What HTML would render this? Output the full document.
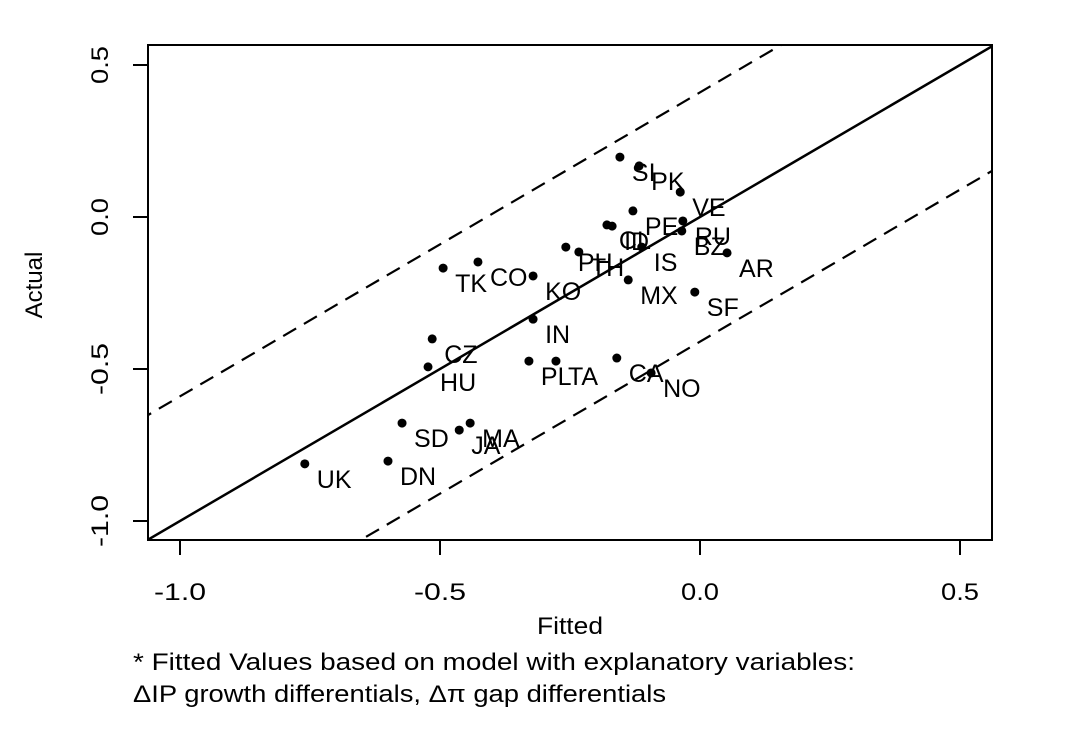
<!DOCTYPE html>
<html><head><meta charset="utf-8"><style>
body{margin:0;background:#fff;}
svg text{font-family:"Liberation Sans",Arial,sans-serif;fill:#000;}
</style></head><body>
<svg id="chart" width="1068" height="732" xmlns="http://www.w3.org/2000/svg">
<rect x="0" y="0" width="1068" height="732" fill="#fff"/>
<defs><clipPath id="clip"><rect x="148" y="45" width="844" height="495"/></clipPath></defs>
<g id="lines" clip-path="url(#clip)"></g>
<g id="pts"></g>
<rect x="148" y="45" width="844" height="495" fill="none" stroke="#000" stroke-width="2"/>
<g id="axes"></g>
<text x="537" y="634" font-size="24" textLength="66" lengthAdjust="spacingAndGlyphs">Fitted</text>
<text x="42" y="285" font-size="24" text-anchor="middle" transform="rotate(-90 42 285)">Actual</text>
<text x="133" y="670" font-size="24" textLength="722" lengthAdjust="spacingAndGlyphs">* Fitted Values based on model with explanatory variables:</text>
<text x="133" y="702" font-size="24" textLength="533" lengthAdjust="spacingAndGlyphs">ΔIP growth differentials, Δπ gap differentials</text>
</svg>
<script>
const labels=["SI","PK","VE","PE","RU","BZ","CL","ID","IS","AR","PH","TH","MX","SF","KO","TK","CO","IN","CZ","HU","PL","TA","CA","NO","SD","JA","MA","UK","DN"];
const fitted=[-0.154,-0.117,-0.038,-0.129,-0.033,-0.035,-0.179,-0.169,-0.112,0.052,-0.258,-0.233,-0.138,-0.010,-0.321,-0.494,-0.427,-0.321,-0.515,-0.523,-0.329,-0.277,-0.160,-0.094,-0.573,-0.463,-0.442,-0.760,-0.600];
const actual=[0.197,0.168,0.082,0.020,-0.013,-0.046,-0.026,-0.030,-0.099,-0.118,-0.099,-0.115,-0.207,-0.247,-0.194,-0.168,-0.148,-0.336,-0.401,-0.493,-0.474,-0.474,-0.464,-0.513,-0.678,-0.701,-0.678,-0.812,-0.803];
const xTicks=[-1.0,-0.5,0.0,0.5];
const yTicks=[-1.0,-0.5,0.0,0.5];
const bandOffsets=[-0.41,0,0.41];
const NS="http://www.w3.org/2000/svg";
const sx=v=>700+v*520, sy=v=>217-v*304;
function mk(t,a,p){const e=document.createElementNS(NS,t);for(const k in a)e.setAttribute(k,a[k]);p.appendChild(e);return e;}
const L=document.getElementById('lines');
bandOffsets.forEach(o=>{
  const e=mk('line',{x1:sx(-1.2),y1:sy(-1.2+o),x2:sx(0.7),y2:sy(0.7+o),stroke:'#000','stroke-width':o===0?2.5:2.2,'stroke-dasharray':o===0?'none':'15 9'},L);
  
  
});
const P=document.getElementById('pts');
labels.forEach((lb,i)=>{
  const c=mk('circle',{cx:sx(fitted[i]),cy:sy(actual[i]),r:4.5,fill:'#000'},P);
  
  
  const t=mk('text',{x:sx(fitted[i])+12,y:sy(actual[i])+24,'font-size':25},P);
  t.textContent=lb;
  
  
});
const A=document.getElementById('axes');
xTicks.forEach(v=>{
  const l=mk('line',{x1:sx(v),y1:540,x2:sx(v),y2:555,stroke:'#000','stroke-width':2},A);
  
  
  const s=v<0?52:38;
  const t=mk('text',{x:sx(v)-s/2,y:600,'font-size':24,textLength:s,lengthAdjust:'spacingAndGlyphs'},A);
  t.textContent=v.toFixed(1);
  
  
});
yTicks.forEach(v=>{
  const l=mk('line',{x1:133,y1:sy(v),x2:148,y2:sy(v),stroke:'#000','stroke-width':2},A);
  
  
  const s=v<0?52:38;
  const t=mk('text',{x:sy(0)*0+0,y:0,'font-size':24,textLength:s,lengthAdjust:'spacingAndGlyphs',transform:`translate(108 ${sy(v)+s/2}) rotate(-90)`},A);
  t.textContent=v.toFixed(1);
  
  
});
</script>
</body></html>
